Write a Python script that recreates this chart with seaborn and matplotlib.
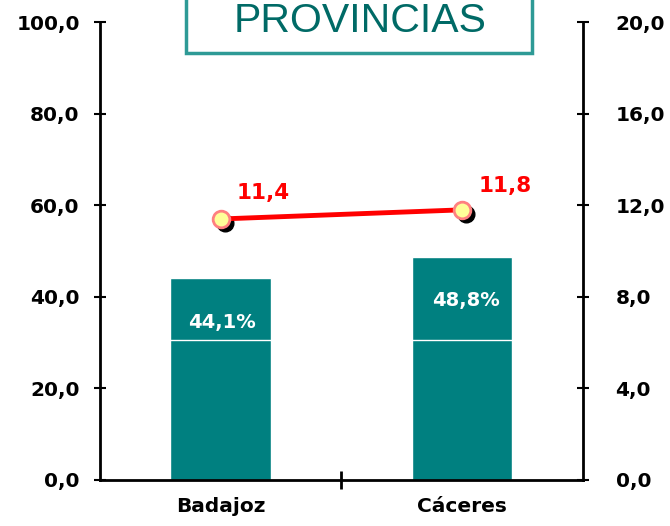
import matplotlib
matplotlib.use("Agg")
import matplotlib.pyplot as plt
import matplotlib.transforms as mtransforms
from matplotlib.patches import Rectangle
import seaborn as sns

# Data
provincias = ["Badajoz", "Cáceres"]
porcentaje = [44.1, 48.8]          # bars, left axis (0-100)
porcentaje_labels = ["44,1%", "48,8%"]
indice = [11.4, 11.8]              # line, right axis (0-20)
indice_labels = ["11,4", "11,8"]
left_ticks = [0, 20, 40, 60, 80, 100]
right_ticks = [0, 4, 8, 12, 16, 20]
split_level = 30.5                 # white divider drawn across the bars

TEAL = "#008080"
TITLE_TEAL = "#006A66"

sns.set_style("white")
plt.rcParams["font.family"] = ["DejaVu Sans"]
plt.rcParams["text.color"] = "black"
plt.rcParams["xtick.color"] = "black"
plt.rcParams["ytick.color"] = "black"

fig = plt.figure(figsize=(6.7, 5.26), dpi=100)
ax = fig.add_axes([0.149, 0.0875, 0.721, 0.8705])

sns.barplot(x=provincias, y=porcentaje, color=TEAL, width=0.415,
            saturation=1, ax=ax, zorder=2)
ax.axhline(split_level, color="white", linewidth=1, zorder=2.2)

ax.set_xlim(-0.5, 1.5)
ax.set_ylim(0, 100)
ax.set_yticks(left_ticks)
ax.set_yticklabels([f"{t:.1f}".replace(".", ",") for t in left_ticks],
                   fontsize=14.5, fontweight="bold")
ax.tick_params(axis="y", left=True, direction="inout", length=9, width=1.5, pad=10)
ax.set_xticks(range(len(provincias)))
ax.set_xticklabels(provincias, fontsize=14.5, fontweight="bold")
ax.tick_params(axis="x", which="major", length=0, pad=12)
ax.set_xticks([0.5], minor=True)
ax.tick_params(axis="x", which="minor", bottom=True, direction="inout",
               length=13, width=2)
for side in ["top", "right"]:
    ax.spines[side].set_visible(False)
for side in ["left", "bottom"]:
    ax.spines[side].set_linewidth(2)
    ax.spines[side].set_color("black")
ax.set_xlabel("")
ax.set_ylabel("")

# percentage labels inside the bars
label_y = [34.3, 39.1]
label_dx = [0.005, 0.015]
for i, (txt, ly) in enumerate(zip(porcentaje_labels, label_y)):
    ax.text(i + label_dx[i], ly, txt, color="white", fontsize=14,
            fontweight="bold", ha="center", va="center", zorder=4)

# Right axis with the red line
ax2 = ax.twinx()
ax2.set_ylim(0, 20)
shadow = mtransforms.offset_copy(ax2.transData, fig=fig, x=4, y=-4, units="dots")
ax2.plot(range(len(indice)), indice, linestyle="none", marker="o",
         markersize=12, color="black", transform=shadow, zorder=2)
sns.lineplot(x=range(len(indice)), y=indice, ax=ax2, color="#FF0000",
             linewidth=3.5, marker="o", markersize=12,
             markerfacecolor="#FFFF99", markeredgecolor="#FF8080",
             markeredgewidth=2, zorder=3)
ax2.set_xlim(-0.5, 1.5)
ax2.set_yticks(right_ticks)
ax2.set_yticklabels([f"{t:.1f}".replace(".", ",") for t in right_ticks],
                    fontsize=14.5, fontweight="bold")
ax2.tick_params(axis="y", right=True, direction="inout", length=9, width=1.5, pad=19)
for side in ["top", "left", "bottom"]:
    ax2.spines[side].set_visible(False)
ax2.spines["right"].set_linewidth(2)
ax2.spines["right"].set_color("black")
ax2.set_ylabel("")

label_off = [(0.175, 1.13), (0.177, 1.04)]
for i, (txt, v) in enumerate(zip(indice_labels, indice)):
    dx, dy = label_off[i]
    ax2.text(i + dx, v + dy, txt, color="#FF0000", fontsize=15.5,
             fontweight="bold", ha="center", va="center")

# Title box
fig.patches.append(Rectangle((0.278, 0.899), 0.516, 0.12, transform=fig.transFigure,
                             facecolor="white", edgecolor="#2E9A96", linewidth=2.5,
                             zorder=5))
fig.text(0.538, 1 - 32 / 526, "PROVINCIAS", color=TITLE_TEAL, fontsize=29.5,
         family="Liberation Sans", ha="center", va="baseline", zorder=6)

fig.savefig("out.png", dpi=100)
